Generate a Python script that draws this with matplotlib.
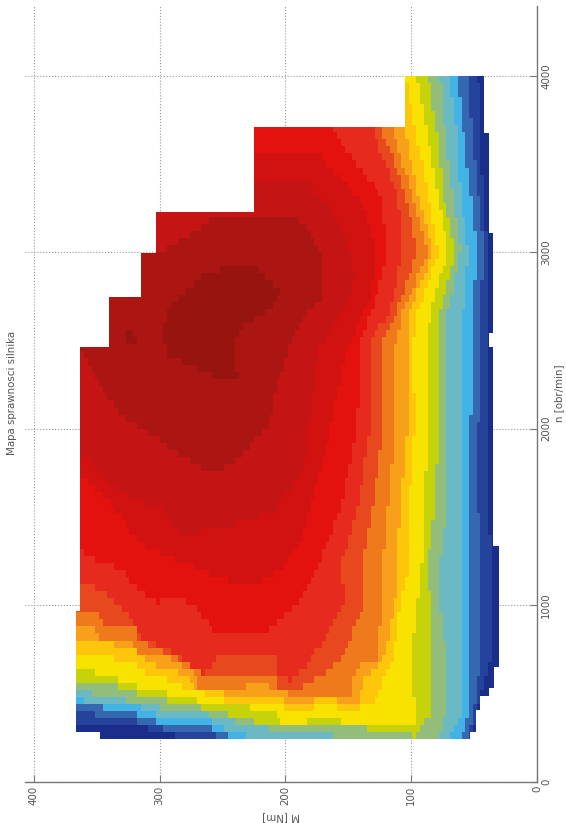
import numpy as np
import matplotlib
matplotlib.use('Agg')
import matplotlib.pyplot as plt
from matplotlib.colors import ListedColormap
from matplotlib.patches import Polygon
from matplotlib.path import Path

# outline of the map
env_n = [242, 242, 282, 282, 969, 969, 2463, 2463, 2748, 2748, 2995, 2995, 3230, 3230, 3711, 3711, 4000,
         4000, 3675, 3675, 3108, 3108, 2542, 2542, 2463, 2463, 1335, 1335, 650, 650, 531, 531, 486, 486, 406, 406, 282, 282]
env_M = [53, 347.5, 347.5, 366.7, 366.7, 363, 363, 340.4, 340.4, 314.4, 314.4, 303, 303, 225, 225, 104.8, 104.8,
         41.9, 41.9, 37.9, 37.9, 34.7, 34.7, 37.9, 37.9, 34.7, 34.7, 29.9, 29.9, 33.9, 33.9, 37.9, 37.9, 45, 45, 48.6, 48.6, 53]

colors = ['#1b2d8a', '#26439b', '#3568b1', '#41b3e6', '#6ab9c3', '#93bd7a', '#c6d30a', '#f8e300', '#fdc60a',
          '#f8a01a', '#ee7a1c', '#e8481e', '#e62b1e', '#e4120f', '#d21111', '#c41414', '#ab1613', '#98150f']

st = [240, 406, 690, 1000, 1256, 1540, 2000, 2485, 2673, 3000, 3335, 3675, 4000]

# efficiency bands: low torque side at stations, high torque side as its own line
k1_low = [51, 48, 37, 35.5, 35.5, 39.5, 39.5, 39.5, 39.5, 39.5, 42.7, 45, 46.7]
k1_hi_n = [310, 321, 287, 270, 230]
k1_hi_M = [379, 321, 300, 288, 288]

k2_low = [54.6, 50, 45, 45, 45, 46.7, 46.7, 45, 45, 42, 46.7, 51.4, 55.4]
k2_hi_n = [406, 367, 367, 321, 321, 282, 276, 230]
k2_hi_M = [379, 337, 321, 314, 300, 292, 254, 254]

k3_low = [61, 53, 53, 53, 53, 53, 53, 50.5, 51.4, 47.5, 53, 58.6, 63.4]
k3_hi_n = [446, 435, 406, 395, 361, 333, 316, 321, 282, 276, 230]
k3_hi_M = [379, 353, 337, 321, 314, 301, 292, 262, 254, 246.5, 246.5]

k4_low = [71.3, 59.4, 61, 61, 58.6, 59.4, 59.4, 58.6, 58.6, 54.6, 61, 63.4, 70.5]
k4_hi_n = [480, 446, 446, 367, 367, 282, 276, 230]
k4_hi_M = [379, 347.5, 321, 300, 262, 246.5, 230.6, 230.6]

k5_low = [79.3, 71.3, 71.3, 77, 77, 71.3, 70.5, 70.5, 70.5, 61, 67.4, 73, 77]
k5_hi_n = [531, 491, 446, 406, 378, 333, 282, 265, 230]
k5_hi_M = [379, 347.5, 315.7, 292, 257.6, 236, 198.7, 162, 162]

k6_low = [98.4, 82.5, 82.5, 85, 86.5, 81, 78.5, 77, 77, 65, 74.5, 79.3, 86.5]
k6_hi_n = [565, 565, 531, 480, 446, 406, 321, 310, 310, 276, 276, 230]
k6_hi_M = [379, 347.5, 326, 314, 281, 260, 214.7, 190.8, 134, 134, 98.4, 98.4]

k7_low = [96.8, 99.2, 95.2, 91, 90.4, 86.5, 86.5, 85, 70.5, 78.5, 87.3, 95.2]
k7_hi_n = [650, 616, 565, 531, 480, 446, 406, 333, 333, 367, 367, 321, 321, 310]
k7_hi_M = [379, 347.5, 326, 314, 281, 260, 212, 202, 184, 184, 158, 156.5, 132.6, 96.8]

k8_low = [114.3, 108.8, 100.8, 102.4, 96.8, 98.4, 94.4, 78.5, 86.5, 96.8, 104]
k8_hi_n = [729, 690, 605, 565, 520, 480, 446, 446, 406, 406, 446, 446, 406, 406, 452, 452, 600]
k8_hi_M = [379, 321, 310, 286, 281, 249.7, 249.7, 206.7, 196, 176, 176, 160.5, 160.5, 142, 142, 130, 120.7]

k9_low = [122.3, 112.7, 111, 108.8, 103.2, 103.2, 100.8, 82.5, 94.4, 104.8, 108.8]
k9_hi_n = [803, 803, 746, 672, 605, 520, 520, 480, 480, 446, 446, 491, 491, 446, 446, 491, 593]
k9_hi_M = [379, 350, 315.7, 307.8, 278, 270, 249.7, 249.7, 206.7, 196, 176, 176, 160.5, 160.5, 142, 142, 136]

k10_low = [127, 123, 122.3, 119, 112.7, 112.7, 106.3, 86.5, 99.2, 114.3, 116.7]
k10_hi_n = [888, 888, 820, 814, 718, 701, 616, 531, 531, 565, 565, 520, 491, 491, 593, 661]
k10_hi_M = [379, 355.5, 347.5, 323.7, 315.7, 291.8, 273.6, 268, 230.6, 230.6, 213.8, 213.8, 190.8, 146, 146, 140.6]

k11_low = [156.5, 136.6, 138.2, 131, 122.3, 123, 111, 95.2, 104.8, 122.3, 125]
k11_hi_n = [973, 956, 899, 888, 803, 707, 593, 616, 605, 503, 509, 560]
k11_hi_M = [379, 347.5, 345, 321, 315.7, 286, 262, 230.6, 206.7, 206.7, 196, 180.4]

k12_low = [180, 154, 155, 143, 132.6, 132.6, 116.7, 106.4, 111, 130, 133]
k12_hi_n = [1171, 1143, 1086, 933, 820, 763, 690, 605, 701, 707, 593, 576]
k12_hi_M = [379, 362.7, 347.5, 323.7, 315.7, 297, 281, 265.6, 254, 206.7, 206.7, 196]

k13_low = [190.8, 172.5, 156.5, 143, 140.6, 131, 118.3, 124.7, 162, 165]
k13_hi_n = [1341, 1313, 1256, 1216, 1126, 1012, 1046, 990, 860, 848, 973]
k13_hi_M = [379, 362.7, 351, 333, 321, 303, 284.5, 272.5, 257.5, 214, 195]

# closed islands near the best efficiency
k14_n = [1721, 1710, 1596, 1352, 1239, 1143, 1103, 1216, 1369, 1653, 1936, 2163, 2446, 2576, 2729, 2899, 3086, 3279, 3426, 3562, 3562, 3579, 3579]
k14_M = [379, 359.5, 341, 316.5, 280, 248, 226.6, 202.7, 186.8, 176.6, 165.8, 160.5, 151, 143, 132.6, 128.7, 130.3, 138, 156.5, 175, 225, 236, 379]

k15_n = [1851, 1840, 1693, 1596, 1540, 1386, 1437, 1466, 1540, 1693, 1862, 2000, 2446, 2542, 2673, 2843, 3012, 3256, 3392, 3392, 3409, 3409]
k15_M = [379, 357, 341, 319.7, 298, 282, 261.6, 234.5, 208, 192, 182.7, 182, 174, 164.5, 154, 144.6, 148.5, 164.5, 182.7, 224, 236, 379]

k16_n = [2446, 2446, 2236, 2050, 1936, 1806, 1749, 1806, 2010, 2293, 2503, 2656, 2746, 2994, 3183, 3205, 3183, 3109, 3029, 2984, 2990, 2956, 2729]
k16_M = [371, 363, 347.5, 326, 300, 273.6, 257.6, 241.7, 214.7, 204.4, 194.7, 182.7, 170, 170, 188.4, 212, 260, 273.6, 291.8, 303.8, 315, 347.5, 371]

k17_n = [2559, 2690, 2854, 2911, 2899, 2769, 2656, 2559, 2333, 2293, 2265, 2333, 2406, 2503]
k17_M = [298, 292, 268, 250, 220, 204, 215, 238, 240, 236, 246, 268, 292, 298]

spot_n = [2540, 2540, 2520, 2490, 2490, 2520]
spot_M = [326, 320, 316, 320, 324, 329]

n_ticks = [0, 1000, 2000, 3000, 4000]
M_ticks = [0, 100, 200, 300, 400]


def band(low_n, low_M, hi_n, hi_M):
    # high torque line, then low torque side upwards, closed over the top
    vn = list(hi_n) + list(low_n) + [4100, 4100, hi_n[0]]
    vM = list(hi_M) + list(low_M) + [low_M[-1], 430, 430]
    return vn, vM


polys = [
    band(st, k1_low, k1_hi_n, k1_hi_M),
    band(st, k2_low, k2_hi_n, k2_hi_M),
    band(st, k3_low, k3_hi_n, k3_hi_M),
    band(st, k4_low, k4_hi_n, k4_hi_M),
    band(st, k5_low, k5_hi_n, k5_hi_M),
    band(st, k6_low, k6_hi_n, k6_hi_M),
    band(st[1:], k7_low, k7_hi_n, k7_hi_M),
    band(st[2:], k8_low, k8_hi_n, k8_hi_M),
    band(st[2:], k9_low, k9_hi_n, k9_hi_M),
    band(st[2:], k10_low, k10_hi_n, k10_hi_M),
    band(st[2:], k11_low, k11_hi_n, k11_hi_M),
    band(st[2:], k12_low, k12_hi_n, k12_hi_M),
    band(st[3:], k13_low, k13_hi_n, k13_hi_M),
    (k14_n, k14_M),
    (k15_n, k15_M),
    (k16_n, k16_M),
    (k17_n, k17_M),
]

n_edges = np.arange(240, 4041, 40)
M_edges = np.arange(0, 421, 3)
n_mid = (n_edges[:-1] + n_edges[1:]) / 2
M_mid = (M_edges[:-1] + M_edges[1:]) / 2
MM, NN = np.meshgrid(M_mid, n_mid)
pts = np.column_stack([MM.ravel(), NN.ravel()])

Z = np.zeros(MM.shape)
for k, (vn, vM) in enumerate(polys):
    inside = Path(np.column_stack([vM, vn])).contains_points(pts).reshape(MM.shape)
    Z[inside] = k + 1
inside = Path(np.column_stack([spot_M, spot_n])).contains_points(pts).reshape(MM.shape)
Z[inside] = 17

fig = plt.figure(figsize=(5.66, 8.23), dpi=100)
ax = fig.add_axes([25 / 566, 41.3 / 823, 512 / 566, 776.2 / 823])

mesh = ax.pcolormesh(M_edges, n_edges, Z, cmap=ListedColormap(colors), vmin=-0.5, vmax=17.5,
                     shading='flat', antialiased=False)
outline = Polygon(np.column_stack([env_M, env_n]), closed=True, transform=ax.transData,
                  facecolor='none', edgecolor='none')
ax.add_patch(outline)
mesh.set_clip_path(outline)

ax.set_xlim(407, 0)
ax.set_ylim(0, 4398)
ax.set_xticks(M_ticks)
ax.set_yticks(n_ticks)
ax.yaxis.tick_right()
ax.yaxis.set_label_position('right')
ax.grid(True, linestyle=':', color='#999999', linewidth=0.8)
ax.set_axisbelow(True)

for s in ['left', 'top']:
    ax.spines[s].set_visible(False)
for s in ['right', 'bottom']:
    ax.spines[s].set_color('#777777')
    ax.spines[s].set_linewidth(1.0)

ax.tick_params(axis='both', direction='in', length=5, color='#777777', labelcolor='#555555', labelsize=7.4, pad=3)
for t in ax.get_xticklabels():
    t.set_rotation(90)
    t.set_va('top')
    t.set_ha('center')
for t in ax.get_yticklabels():
    t.set_rotation(90)
    t.set_va('center')
    t.set_ha('left')

ax.set_xlabel('M [Nm]', rotation=180, fontsize=7.4, color='#555555', labelpad=5)
ax.set_ylabel('n [obr/min]', rotation=90, fontsize=7.4, color='#555555', labelpad=2)
fig.text(12 / 566, 1 - 393 / 823, 'Mapa sprawnosci silnika', rotation=90, fontsize=7.4, color='#555555',
         ha='center', va='center')

fig.savefig('out.png', dpi=100)
